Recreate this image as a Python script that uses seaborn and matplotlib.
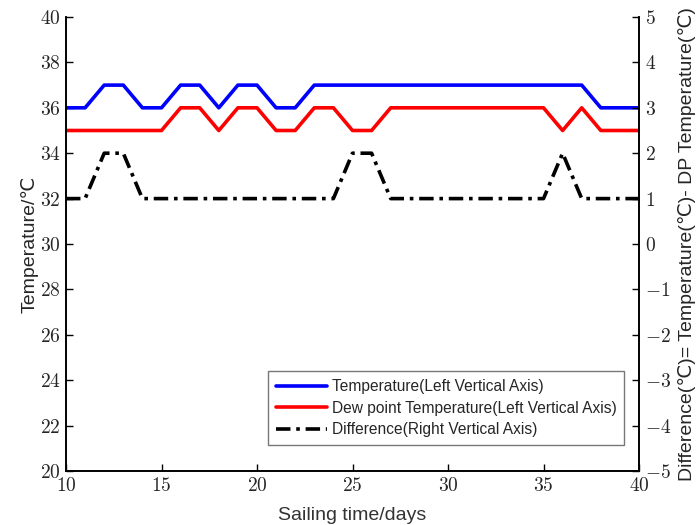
import numpy as np
import pandas as pd
import seaborn as sns
import matplotlib.pyplot as plt
from matplotlib.ticker import FuncFormatter, MultipleLocator

# sailing days and daily readings
days = list(range(10, 41))
temperature = [36, 36, 37, 37, 36, 36, 37, 37, 36, 37, 37, 36, 36, 37, 37, 37,
               37, 37, 37, 37, 37, 37, 37, 37, 37, 37, 37, 37, 36, 36, 36]
dew_point = [35, 35, 35, 35, 35, 35, 36, 36, 35, 36, 36, 35, 35, 36, 36, 35,
             35, 36, 36, 36, 36, 36, 36, 36, 36, 36, 35, 36, 35, 35, 35]
difference = [1, 1, 2, 2, 1, 1, 1, 1, 1, 1, 1, 1, 1, 1, 1, 2,
              2, 1, 1, 1, 1, 1, 1, 1, 1, 1, 2, 1, 1, 1, 1]

left_ticks = [20, 22, 24, 26, 28, 30, 32, 34, 36, 38, 40]
right_ticks = [-5, -4, -3, -2, -1, 0, 1, 2, 3, 4, 5]

df = pd.DataFrame({"day": days, "temp": temperature, "dp": dew_point, "diff": difference})

sns.set_theme(style="ticks")
plt.rcParams["font.family"] = ["Liberation Sans", "DejaVu Sans"]
plt.rcParams["mathtext.fontset"] = "cm"
plt.rcParams["xtick.direction"] = "in"
plt.rcParams["ytick.direction"] = "in"

fig, ax = plt.subplots(figsize=(6.97, 5.25), dpi=100)
fig.subplots_adjust(left=0.0947, right=0.9168, top=0.9676, bottom=0.1029)

sns.lineplot(data=df, x="day", y="temp", ax=ax, color="#0000ff", linewidth=2.6,
             label="Temperature(Left Vertical Axis)")
sns.lineplot(data=df, x="day", y="dp", ax=ax, color="#ff0000", linewidth=2.6,
             label="Dew point Temperature(Left Vertical Axis)")

ax2 = ax.twinx()
sns.lineplot(data=df, x="day", y="diff", ax=ax2, color="black", linewidth=2.6,
             linestyle=(0, (4, 1.6, 1, 1.6)),
             label="Difference(Right Vertical Axis)")

ax.set_xlim(10, 40)
ax.set_ylim(20, 40)
ax2.set_ylim(-5, 5)
ax.xaxis.set_major_locator(MultipleLocator(5))
ax.set_yticks(left_ticks)
ax2.set_yticks(right_ticks)

mathfmt = FuncFormatter(lambda v, pos: f"${v:g}$")
for a in (ax, ax2):
    a.xaxis.set_major_formatter(mathfmt)
    a.yaxis.set_major_formatter(mathfmt)
    a.tick_params(labelsize=14, length=5, width=1, color="black", pad=4)
    for side in ("left", "right", "bottom"):
        a.spines[side].set_color("black")
        a.spines[side].set_linewidth(1.2)
    a.spines["top"].set_visible(False)

ax.tick_params(axis="y", right=False)
ax2.tick_params(axis="y", left=False)

ax.set_xlabel("Sailing time/days", fontsize=14, color="#333333", labelpad=9)
ax.set_ylabel("Temperature/℃", fontsize=14, labelpad=1)
ax2.set_ylabel("Difference(℃)= Temperature(℃)- DP Temperature(℃)", fontsize=14, labelpad=5)

h1, l1 = ax.get_legend_handles_labels()
h2, l2 = ax2.get_legend_handles_labels()
if ax2.get_legend() is not None:
    ax2.get_legend().remove()
leg = ax.legend(h1 + h2, l1 + l2, loc="lower right", bbox_to_anchor=(0.974, 0.057),
                borderaxespad=0, fontsize=11.2, handlelength=3.3, handletextpad=0.3,
                labelspacing=0.42, fancybox=False, framealpha=1, edgecolor="#777777",
                borderpad=0.5)
leg.get_frame().set_linewidth(1)

plt.savefig("out.png", dpi=100)
